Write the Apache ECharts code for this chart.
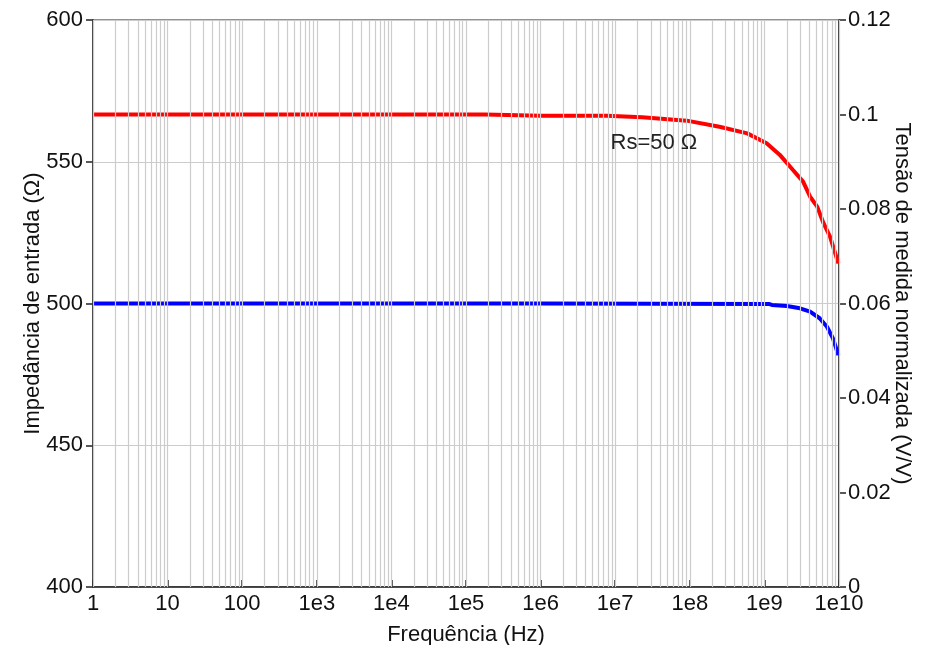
<!DOCTYPE html>
<html>
<head>
<meta charset="utf-8">
<script src="https://cdn.jsdelivr.net/npm/echarts@6/dist/echarts.min.js"></script>
<style>html,body{margin:0;padding:0;background:#fff}#c{width:926px;height:645px}</style>
</head>
<body>
<div id="c"></div>
<script>
// Frequency decade ticks and their labels
var xTickValues = [1, 1e1, 1e2, 1e3, 1e4, 1e5, 1e6, 1e7, 1e8, 1e9, 1e10];
var xTickLabels = ['1', '10', '100', '1e3', '1e4', '1e5', '1e6', '1e7', '1e8', '1e9', '1e10'];
// Minor grid multipliers within each decade
var minorMultipliers = [2, 3, 4, 5, 6, 7, 8, 9];

// Red series: normalised measured voltage (V/V), right axis
var redFreq = [1, 1e2, 1e4, 1.79e5, 1.8e5, 1e6, 7.7e6, 7.8e6, 2.3e7, 9.1e7, 2.5e8, 5.9e8, 1.07e9, 1.6e9, 2.4e9, 3.3e9, 4.1e9, 5.1e9, 6.2e9, 7.6e9, 9.8e9];
var redVal  = [0.1, 0.1, 0.1, 0.1, 0.09975, 0.09975, 0.09975, 0.0994, 0.0994, 0.0987, 0.0974, 0.0960, 0.0939, 0.0915, 0.0883, 0.0858, 0.0826, 0.0805, 0.0770, 0.0741, 0.0685];

// Blue series: input impedance (Ω), left axis
var blueFreq = [1, 1e3, 1e6, 1.17e9, 1.26e9, 2e9, 3e9, 4.1e9, 5.5e9, 6.9e9, 8.3e9, 9.8e9];
var blueVal  = [500, 500, 500, 499.8, 499.5, 499.1, 498.3, 497.1, 494.8, 491.8, 487.7, 481.8];

// Annotation
var annotText = 'Rs=50 Ω';
var annotFreq = 3.3e7;
var annotVal = 0.094;

function zip(a, b) { return a.map(function (v, i) { return [v, b[i]]; }); }

var gridLines = [];
xTickValues.forEach(function (d) { gridLines.push({ xAxis: d }); });
for (var k = 0; k < xTickValues.length - 1; k++) {
  minorMultipliers.forEach(function (m) { gridLines.push({ xAxis: m * xTickValues[k] }); });
}

var FONT = 'Liberation Sans';
var FS = 22;
var chart = echarts.init(document.getElementById('c'), null, { renderer: 'canvas' });
chart.setOption({
  animation: false,
  backgroundColor: '#fff',
  textStyle: { fontFamily: FONT },
  grid: { left: 93, right: 87, top: 20, bottom: 58, containLabel: false, outerBoundsMode: 'none',
          show: true, borderColor: '#222', borderWidth: 1, backgroundColor: 'transparent' },
  xAxis: {
    type: 'log', logBase: 10, min: 1, max: 1e10,
    name: 'Frequência (Hz)', nameLocation: 'middle', nameGap: 37, nameMoveOverlap: false,
    nameTextStyle: { fontSize: FS, color: '#111', fontFamily: FONT },
    axisLine: { show: true, onZero: false, lineStyle: { color: '#222', width: 1.5 } },
    axisTick: { show: true, inside: true, length: 7, customValues: xTickValues, lineStyle: { color: '#222', width: 1.5 } },
    axisLabel: {
      fontSize: FS, color: '#111', margin: 6, fontFamily: FONT, customValues: xTickValues,
      formatter: function (v) { return xTickLabels[xTickValues.indexOf(v)] || xTickLabels[Math.round(Math.log10(v))]; }
    },
    splitLine: { show: false }
  },
  yAxis: [{
    type: 'value', min: 400, max: 600, interval: 50, position: 'left',
    name: 'Impedância de entrada (Ω)', nameLocation: 'middle', nameGap: 49, nameRotate: 90, nameMoveOverlap: false,
    nameTextStyle: { fontSize: FS, color: '#111', fontFamily: FONT },
    axisLine: { show: true, lineStyle: { color: '#222', width: 1.5 } },
    axisTick: { show: true, inside: false, length: 7, lineStyle: { color: '#222', width: 1.5 } },
    axisLabel: { fontSize: FS, color: '#111', margin: 10, fontFamily: FONT },
    splitLine: { show: true, lineStyle: { color: '#cccccc', width: 1.2 } }
  }, {
    type: 'value', min: 0, max: 0.12, interval: 0.02, position: 'right',
    name: 'Tensão de medida normalizada (V/V)', nameLocation: 'middle', nameGap: 52, nameRotate: -90, nameMoveOverlap: false,
    nameTextStyle: { fontSize: FS, color: '#111', fontFamily: FONT },
    axisLine: { show: true, lineStyle: { color: '#222', width: 1.5 } },
    axisTick: { show: true, inside: false, length: 7, lineStyle: { color: '#222', width: 1.5 } },
    axisLabel: { fontSize: FS, color: '#111', margin: 9, fontFamily: FONT,
      formatter: function (v) { return String(+v.toFixed(2)); } },
    splitLine: { show: false }
  }],
  series: [{
    type: 'line', name: 'grid-x', data: [], silent: true, z: 1,
    markLine: {
      silent: true, symbol: 'none', animation: false,
      label: { show: false },
      lineStyle: { color: '#cccccc', width: 1.2, type: 'solid' },
      emphasis: { disabled: true },
      data: gridLines
    }
  }, {
    type: 'line', name: 'Impedância', yAxisIndex: 0, data: zip(blueFreq, blueVal),
    showSymbol: false, symbol: 'none', z: 3,
    lineStyle: { color: '#0000ff', width: 4 }
  }, {
    type: 'line', name: 'Tensão', yAxisIndex: 1, data: zip(redFreq, redVal),
    showSymbol: false, symbol: 'none', z: 4,
    lineStyle: { color: '#ff0000', width: 4 },
    markPoint: {
      symbol: 'circle', symbolSize: 0, silent: true,
      label: { show: true, position: 'inside', formatter: annotText, fontSize: FS, color: '#222', fontFamily: FONT },
      data: [{ coord: [annotFreq, annotVal] }]
    }
  }]
});
</script>
</body>
</html>
